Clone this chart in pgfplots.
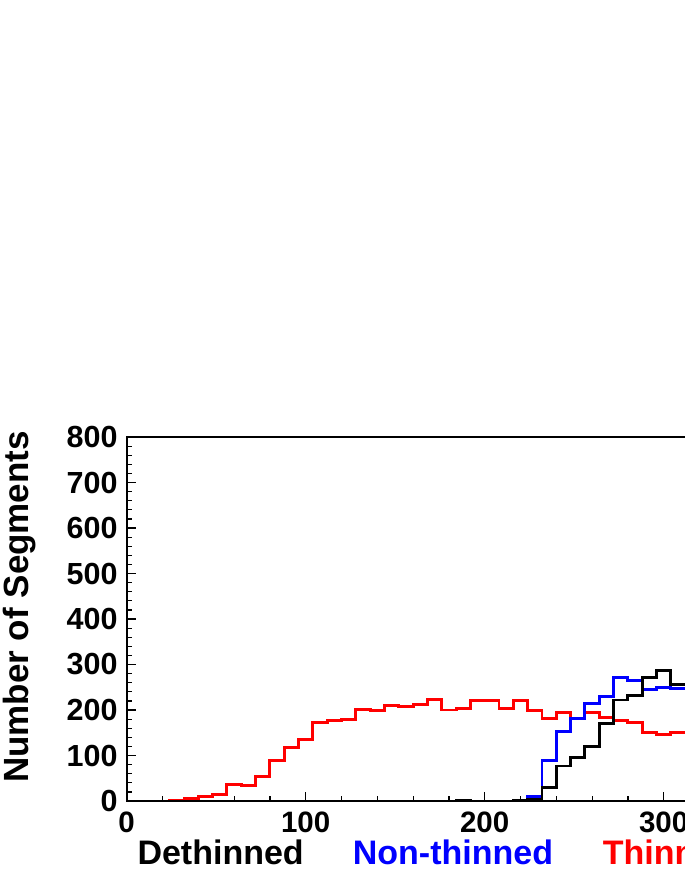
\documentclass[border=0pt]{standalone}
\usepackage{fontspec}
\setmainfont{Liberation Sans}
\usepackage{pgfplots}
\usepackage{pgfplotstable}
\pgfplotsset{compat=1.18}

% bin left edge, dethinned, non-thinned, thinned (bins of 8)
\pgfplotstableread{
x   deth  non  thin
0   0     0    0
8   0     0    0
16  0     0    0
24  0     0    2
32  0     0    5
40  0     0    10
48  0     0    14
56  0     0    37
64  0     0    34
72  0     0    53
80  0     0    89
88  0     0    117
96  0     0    136
104 0     0    173
112 0     0    176
120 0     0    180
128 0     0    201
136 0     0    199
144 0     0    210
152 0     0    207
160 0     0    213
168 0     0    223
176 0     0    200
184 1     0    204
192 0     0    220
200 0     0    220
208 0     0    204
216 2     1    220
224 4     10   199
232 29    90   182
240 77    152  195
248 96    182  182
256 119   215  195
264 171   229  183
272 222   271  176
280 231   264  173
288 272   245  150
296 286   249  147
304 256   247  150
312 256   247  150
}\segs

\begin{document}
\begin{tikzpicture}[x=1pt,y=1pt]
\path[use as bounding box] (0,0) rectangle (685,887);
\clip (0,0) rectangle (685,887);
\begin{axis}[
    at={(126.7pt,86pt)}, anchor=south west,
    scale only axis, width=716pt, height=364pt,
    xmin=0, xmax=400, ymin=0, ymax=800,
    xtick={0,100,...,400}, ytick={0,100,...,800},
    minor tick num=4,
    tick align=inside, xtick pos=bottom, ytick pos=left,
    major tick length=9pt, minor tick length=5pt,
    every tick/.style={black, line width=1.2pt},
    axis line style={line width=2pt},
    ticklabel style={font=\fontsize{30.5}{32}\selectfont\bfseries},
    /pgf/number format/assume math mode=true,
    yticklabel style={anchor=east, inner sep=0pt, xshift=-9pt},
    xticklabel style={anchor=north, inner sep=0pt, yshift=-11pt,
        font=\fontsize{29.5}{31}\selectfont\bfseries},
]
\addplot[const plot, red, line width=2.9pt, line join=miter] table[x=x, y=thin] {\segs};
\addplot[const plot, blue, line width=2.9pt, line join=miter] table[x=x, y=non] {\segs};
\addplot[const plot, black, line width=2.9pt, line join=miter] table[x=x, y=deth] {\segs};
\end{axis}
\node[rotate=90, anchor=base, inner sep=0pt, font=\fontsize{35}{40}\selectfont\bfseries] at (28,280) {Number of Segments};
\node[anchor=base west, inner sep=0pt, font=\fontsize{34}{40}\selectfont\bfseries, text=black] at (137.3,22) {Dethinned};
\node[anchor=base west, inner sep=0pt, font=\fontsize{34}{40}\selectfont\bfseries, text=blue] at (352.7,22) {Non-thinned};
\node[anchor=base west, inner sep=0pt, font=\fontsize{34}{40}\selectfont\bfseries, text=red] at (602.7,22) {Thinned};
\end{tikzpicture}
\end{document}
